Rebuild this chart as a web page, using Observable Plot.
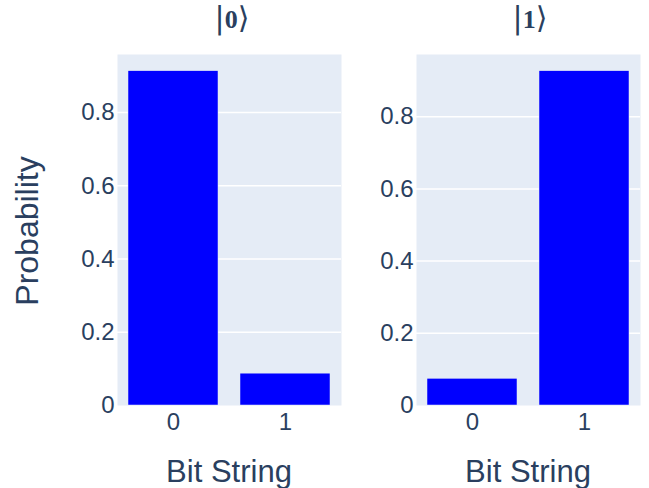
<!DOCTYPE html>
<html>
<head>
<meta charset="utf-8">
<script src="https://cdn.jsdelivr.net/npm/d3@7"></script>
<script src="https://cdn.jsdelivr.net/npm/@observablehq/plot@0.6"></script>
<style>
  body { margin: 0; background: white; }
  #wrap { position: relative; width: 649px; height: 488px; overflow: hidden; font-family: "Liberation Sans", Arial, sans-serif; color: #2a3f5f; }
  .panel { position: absolute; top: 0; }
  .lbl { position: absolute; white-space: nowrap; transform: translate(-50%, -50%); line-height: 1; }
  .title { font-family: "Liberation Serif", "DejaVu Serif", serif; font-size: 26px; font-weight: bold; }
  .title .br { font-size: 30px; font-weight: normal; font-family: "DejaVu Sans", sans-serif; }
  .axt { font-size: 31px; }
  .axy { font-size: 32px; }
</style>
</head>
<body>
<div id="wrap"></div>
<script>
const categories = ["0", "1"];
const panelKets = ["0", "1"];
const probsState0 = [0.913, 0.087];
const probsState1 = [0.074, 0.926];
const yTicks = [0, 0.2, 0.4, 0.6, 0.8];
const tickLabels = ["0", "0.2", "0.4", "0.6", "0.8"];
const xTitle = "Bit String";
const yTitle = "Probability";

const wrap = document.getElementById("wrap");

function panel(values, opts) {
  const data = categories.map((c, i) => ({bit: c, p: values[i]}));
  const ymax = d3.max(values) * 1.05;
  return Plot.plot({
    width: opts.width,
    height: 488,
    marginLeft: opts.marginLeft,
    marginRight: opts.marginRight,
    marginTop: 54,
    marginBottom: 83,
    style: {fontFamily: '"Liberation Sans", Arial, sans-serif', fontSize: "24px", color: "#2a3f5f", background: "transparent", overflow: "visible"},
    x: {type: "band", domain: categories, paddingInner: 0.2, paddingOuter: 0.1, label: null},
    y: {domain: [0, ymax], label: null},
    marks: [
      Plot.frame({fill: "#E5ECF6", stroke: null}),
      Plot.gridY(yTicks.slice(1), {stroke: "white", strokeOpacity: 1, strokeWidth: 1.5}),
      Plot.barY(data, {x: "bit", y: "p", fill: "#0000FF", stroke: "#E5ECF6", strokeWidth: 0.5}),
      Plot.axisY(yTicks, {tickSize: 0, tickPadding: 3, fontSize: 24, tickFormat: (d) => tickLabels[yTicks.indexOf(d)], label: null}),
      Plot.axisX({tickSize: 0, tickPadding: 7, fontSize: 24, label: null})
    ]
  });
}

function addPanel(values, left, width, ml, mr) {
  const d = document.createElement("div");
  d.className = "panel";
  d.style.left = left + "px";
  d.appendChild(panel(values, {width, marginLeft: ml, marginRight: mr}));
  wrap.appendChild(d);
}
addPanel(probsState0, 0, 345, 117, 4);
addPanel(probsState1, 345, 304, 71, 9);

function addLabel(cls, x, y, rot) {
  const d = document.createElement("div");
  d.className = "lbl " + cls;
  d.style.left = x + "px";
  d.style.top = y + "px";
  if (rot) d.style.transform = "translate(-50%, -50%) rotate(-90deg)";
  wrap.appendChild(d);
  return d;
}
function addKet(k, x) {
  const d = addLabel("title", x, 18);
  const a = document.createElement("span"); a.className = "br"; a.textContent = "|";
  const m = document.createElement("span"); m.textContent = k;
  const b = document.createElement("span"); b.className = "br"; b.textContent = "\u27E9";
  d.append(a, m, b);
}
addKet(panelKets[0], 232);
addKet(panelKets[1], 530);
addLabel("axt", 229, 471).textContent = xTitle;
addLabel("axt", 528, 471).textContent = xTitle;
addLabel("axy", 27, 231, true).textContent = yTitle;
</script>
</body>
</html>
